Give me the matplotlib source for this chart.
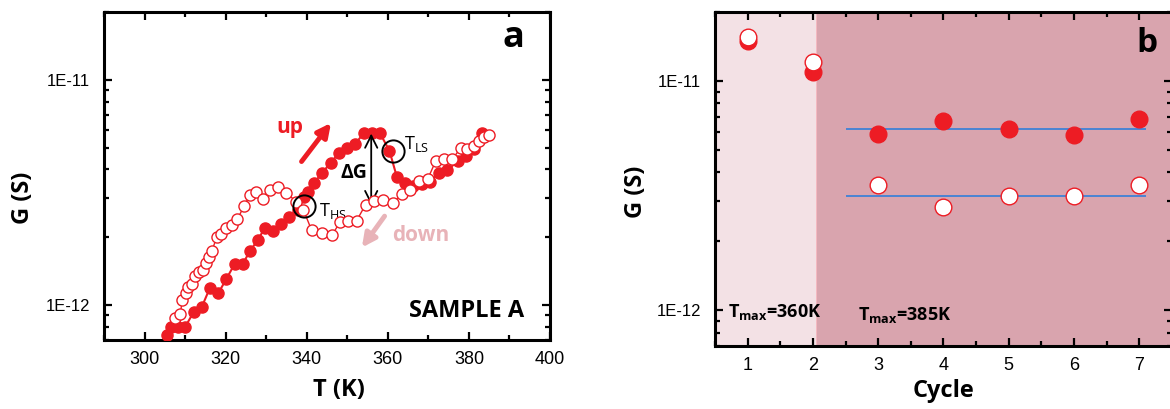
import numpy as np
import matplotlib
matplotlib.use("Agg")
import matplotlib.pyplot as plt
from matplotlib.ticker import FixedLocator, LogLocator, FuncFormatter, MultipleLocator, NullFormatter

# panel a: conductance vs temperature (G in pS)
t_up = [305.5, 306.6, 308.2, 310.0, 312.1, 314.1, 316.1, 318.2, 320.2, 322.2,
        324.2, 326.0, 327.9, 329.7, 331.7, 333.7, 335.7, 337.8, 339.4, 340.2,
        341.8, 343.8, 345.9, 347.9, 349.9, 351.9, 354.0, 356.0, 358.1, 360.4,
        362.2, 364.3, 366.3, 368.4, 370.4, 372.5, 374.7, 377.2, 379.2, 381.2, 383.3]
g_up = [0.74, 0.80, 0.80, 0.80, 0.93, 0.98, 1.19, 1.13, 1.31, 1.52,
        1.52, 1.74, 1.94, 2.21, 2.14, 2.30, 2.45, 2.64, 3.01, 3.19,
        3.49, 3.86, 4.29, 4.71, 4.96, 5.18, 5.78, 5.83, 5.78, 4.84,
        3.72, 3.50, 3.39, 3.44, 3.52, 3.84, 3.97, 4.35, 4.60, 4.92, 5.79]

t_down = [307.5, 308.8, 309.3, 310.1, 310.7, 311.7, 312.5, 313.5, 314.4, 315.2,
          315.8, 316.6, 317.8, 318.8, 320.2, 321.5, 322.9, 324.6, 326.0, 327.4,
          329.2, 331.0, 332.9, 335.0, 337.3, 339.2, 341.2, 343.8, 346.3, 348.2,
          350.2, 352.3, 354.5, 356.7, 358.9, 361.2, 363.4, 365.5, 367.6, 369.8,
          371.8, 373.9, 375.9, 378.0, 379.6, 381.2, 382.5, 383.7, 384.9]
g_down = [0.88, 0.91, 1.05, 1.13, 1.20, 1.24, 1.34, 1.40, 1.43, 1.53,
          1.63, 1.74, 2.00, 2.07, 2.20, 2.27, 2.41, 2.76, 3.09, 3.17,
          2.95, 3.25, 3.33, 3.16, 2.88, 2.64, 2.15, 2.08, 2.05, 2.34,
          2.37, 2.37, 2.79, 2.90, 2.92, 2.84, 3.11, 3.24, 3.57, 3.62,
          4.35, 4.45, 4.45, 4.98, 4.92, 5.09, 5.36, 5.59, 5.70]

# panel b: conductance per cycle (pS)
cycles = [1, 2, 3, 4, 5, 6, 7]
g_cyc_up = [15.0, 10.9, 5.87, 6.67, 6.21, 5.83, 6.83]
g_cyc_down = [15.5, 12.1, 3.51, 2.82, 3.16, 3.16, 3.54]
mean_up = 6.21
mean_down = 3.14

RED = '#ed1c24'
PALE = '#e8b3b8'
BOLD = ['Open Sans', 'DejaVu Sans']

plt.rcParams['font.family'] = ['Liberation Sans', 'DejaVu Sans']
plt.rcParams['mathtext.fontset'] = 'custom'
plt.rcParams['mathtext.rm'] = 'Open Sans'
plt.rcParams['mathtext.bf'] = 'Open Sans:bold'
plt.rcParams['mathtext.it'] = 'Open Sans:italic'

fig = plt.figure(figsize=(11.7, 4.09), dpi=100)
ax1 = fig.add_axes([0.0889, 0.1687, 0.3812, 0.8020])
ax2 = fig.add_axes([0.6111, 0.1540, 0.3906, 0.8166])


def style(ax):
    ax.set_yscale('log')
    ax.set_ylim(7e-13, 2e-11)
    ax.yaxis.set_major_locator(FixedLocator([1e-12, 1e-11]))
    ax.yaxis.set_minor_locator(LogLocator(base=10, subs=np.arange(2, 10)))
    ax.yaxis.set_minor_formatter(NullFormatter())
    ax.yaxis.set_major_formatter(FuncFormatter(lambda v, p: '1E%d' % round(np.log10(v))))
    for s in ax.spines.values():
        s.set_linewidth(2.2)
    ax.tick_params(which='both', direction='in', top=True, right=True, width=1.6)
    ax.tick_params(which='major', length=6)
    ax.tick_params(which='minor', length=3.5)
    ax.tick_params(axis='x', labelsize=13, pad=8)
    ax.tick_params(axis='y', labelsize=12, pad=10)


# ---- panel a ----
style(ax1)
ax1.set_xlim(290, 400)
ax1.xaxis.set_major_locator(MultipleLocator(20))
ax1.xaxis.set_minor_locator(MultipleLocator(10))

gu = np.array(g_up) * 1e-12
gd = np.array(g_down) * 1e-12
ax1.plot(t_up, gu, '-', color=RED, lw=1.5, marker='o', ms=8, mfc=RED, mec=RED, zorder=3)
ax1.plot(t_down, gd, '-', color=RED, lw=1.0, marker='o', ms=8, mfc='white', mec=RED,
         mew=1.0, zorder=4)

# circles marking the transition points
ax1.plot([339.3, 361.2], [2.76e-12, 4.84e-12], 'o', ms=16, mfc='none', mec='black', mew=1.4, zorder=5)
ax1.text(364.0, 5.2e-12, r'T$_{\rm LS}$', fontsize=13, family=BOLD, va='center')
ax1.text(342.9, 2.62e-12, r'T$_{\rm HS}$', fontsize=13, family=BOLD, va='center')

ax1.annotate('', xy=(355.9, 5.94e-12), xytext=(355.9, 2.70e-12),
             arrowprops=dict(arrowstyle='<->', color='black', lw=1.3, mutation_scale=22))
ax1.text(351.6, 3.86e-12, r'ΔG', fontsize=14, weight='bold', family=BOLD, ha='center', va='center')

ax1.annotate('', xy=(346.4, 6.58e-12), xytext=(338.3, 4.24e-12),
             arrowprops=dict(arrowstyle='-|>', color=RED, lw=3.5, mutation_scale=20))
ax1.text(335.8, 5.82e-12, 'up', fontsize=15, weight='bold', family=BOLD, color=RED,
         ha='center', va='baseline')
ax1.annotate('', xy=(353.2, 1.76e-12), xytext=(359.6, 2.54e-12),
             arrowprops=dict(arrowstyle='-|>', color=PALE, lw=3.5, mutation_scale=20))
ax1.text(368.1, 1.93e-12, 'down', fontsize=15, weight='bold', family=BOLD, color=PALE,
         ha='center', va='baseline')

ax1.text(0.942, 0.088, 'SAMPLE A', transform=ax1.transAxes, fontsize=17, weight='bold',
         family=BOLD, ha='right', va='center')
ax1.text(0.919, 0.921, 'a', transform=ax1.transAxes, fontsize=26, weight='bold',
         family=BOLD, ha='center', va='center')

ax1.set_xlabel('T (K)', fontsize=17, weight='bold', family=BOLD)
ax1.set_ylabel('G (S)', fontsize=17, weight='bold', family=BOLD)
ax1.xaxis.set_label_coords(0.527, -0.115)
ax1.yaxis.set_label_coords(-0.155, 0.433)

# ---- panel b ----
style(ax2)
ax2.set_xlim(0.5, 7.5)
ax2.xaxis.set_major_locator(MultipleLocator(1))
ax2.xaxis.set_minor_locator(MultipleLocator(0.5))

ax2.axvspan(0.5, 2.07, facecolor='#f3e1e5', edgecolor='#f5b0b9', lw=1.2, zorder=0)
ax2.axvspan(2.07, 7.5, facecolor='#d9a4ae', edgecolor='none', zorder=0)

ax2.hlines([mean_up * 1e-12, mean_down * 1e-12], 2.5, 7.1, color='#4a84d4', lw=1.4, zorder=2)
ax2.plot(cycles, np.array(g_cyc_up) * 1e-12, 'o', ms=12, mfc=RED, mec=RED, zorder=3)
ax2.plot(cycles, np.array(g_cyc_down) * 1e-12, 'o', ms=12, mfc='white', mec=RED, mew=1.0, zorder=4)

ax2.text(0.028, 0.102, r'T$_{\bf max}$=360K', transform=ax2.transAxes, fontsize=13,
         weight='bold', family=BOLD, va='center')
ax2.text(0.313, 0.093, r'T$_{\bf max}$=385K', transform=ax2.transAxes, fontsize=13,
         weight='bold', family=BOLD, va='center')
ax2.text(0.945, 0.907, 'b', transform=ax2.transAxes, fontsize=24, weight='bold',
         family=BOLD, ha='center', va='center')

ax2.set_xlabel('Cycle', fontsize=17, weight='bold', family=BOLD)
ax2.set_ylabel('G (S)', fontsize=17, weight='bold', family=BOLD)
ax2.xaxis.set_label_coords(0.5, -0.1)
ax2.yaxis.set_label_coords(-0.147, 0.461)

fig.savefig('out.png', dpi=100)
